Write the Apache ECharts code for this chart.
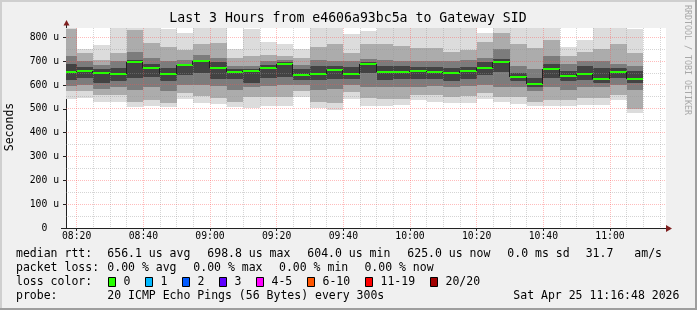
<!DOCTYPE html>
<html><head><meta charset="utf-8">
<script src="https://cdn.jsdelivr.net/npm/echarts@6/dist/echarts.min.js"></script>
<style>html,body{margin:0;padding:0;background:#f0f0f0}#c{width:697px;height:310px}</style>
</head><body><div id="c"></div>
<script>
// ---------- data ----------
const viewStart = '08:16:48';
const viewEnd = '11:16:48';
const stepSeconds = 300;
const barEndTimes = ['08:20','08:25','08:30','08:35','08:40','08:45','08:50','08:55','09:00','09:05','09:10','09:15',
  '09:20','09:25','09:30','09:35','09:40','09:45','09:50','09:55','10:00','10:05','10:10','10:15',
  '10:20','10:25','10:30','10:35','10:40','10:45','10:50','10:55','11:00','11:05','11:10'];
const medianUs = [654,658,650,648,697,671,645,683,698.8,673,654,657,671,687,640,645,662,648,687,654,654,658,654,650,658,671,696,632,604,666,636,644,627,654,625];
// smoke bands (µs): outermost (1) to innermost (4)
const lo1 = [543,545,529,529,508,510,506,540,525,520,508,505,513,510,550,502,493,543,510,510,515,536,530,525,526,540,530,520,510,510,510,515,517,535,484];
const hi1 = [839,752,766,839,840,839,836,818,840,840,750,835,779,773,752,840,840,815,825,840,840,840,840,840,840,820,840,840,840,840,760,788,840,840,835];
const lo2 = [573,575,560,560,530,535,525,565,555,545,530,550,550,550,575,530,525,570,545,540,540,560,560,550,555,565,550,550,530,535,535,545,545,560,500];
const hi2 = [835,735,706,735,830,775,760,745,770,775,715,720,725,720,715,760,770,733,770,770,765,755,755,740,745,780,820,770,755,790,720,740,750,770,735];
const lo3 = [594,600,585,590,580,590,575,600,600,595,580,590,595,600,600,580,585,600,590,590,590,590,595,590,595,600,590,590,575,590,580,590,590,600,580];
const hi3 = [720,700,683,700,740,715,700,705,725,715,680,680,700,705,685,705,700,700,710,705,700,700,700,700,705,715,750,680,665,720,690,700,700,690,680];
const lo4 = [622,630,610,615,630,635,615,640,650,625,625,610,630,635,620,620,625,625,650,620,625,625,625,615,625,640,655,615,590,630,615,620,610,630,610];
const hi4 = [688,675,668,670,705,690,670,690,705,695,668,665,685,695,665,680,680,675,695,680,680,675,675,670,675,695,710,650,630,690,660,680,670,670,660];
const xTickLabels = ['08:20','08:40','09:00','09:20','09:40','10:00','10:20','10:40','11:00'];
const xGridTimes = ['08:20','08:25','08:30','08:35','08:40','08:45','08:50','08:55','09:00','09:05','09:10','09:15',
  '09:20','09:25','09:30','09:35','09:40','09:45','09:50','09:55','10:00','10:05','10:10','10:15',
  '10:20','10:25','10:30','10:35','10:40','10:45','10:50','10:55','11:00','11:05','11:10','11:15'];
const yTickValues = [0,100,200,300,400,500,600,700,800];
const yMinorValues = [50,150,250,350,450,550,650,750];
const yMax = 839;

// ---------- helpers ----------
function toMin(s){const p=s.split(':').map(Number);return p[0]*60+p[1]+(p[2]||0)/60;}
const stepMin = stepSeconds/60;
const barEnd = barEndTimes.map(toMin);
const xMin = toMin(viewStart), xMax = toMin(viewEnd);
const xMajor = xTickLabels.map(toMin);
const xMinor = xGridTimes.filter(t=>!xTickLabels.includes(t)).map(toMin);
const yMajor = yTickValues.filter(v=>v>0);
const FONT = "'DejaVu Sans Mono', monospace";
const G = {left:66, top:28, width:600, height:200};

function fmtTime(m){const h=Math.floor(m/60), mm=Math.round(m-h*60);return String(h).padStart(2,'0')+':'+String(mm).padStart(2,'0');}

const layers = [[lo1,hi1,'#dcdcdc'],[lo2,hi2,'#acacac'],[lo3,hi3,'#7c7c7c'],[lo4,hi4,'#434343']];

function renderSmoke(params, api){
  const i = params.dataIndex, cs = params.coordSys;
  const end = barEnd[i], start = end - stepMin;
  const children = [];
  layers.forEach(([lo,hi,col])=>{
    const a = api.coord([start, hi[i]]), b = api.coord([end, lo[i]]);
    const x0 = Math.round(a[0]), x1 = Math.round(b[0]);
    const y0 = Math.round(a[1]), y1 = Math.round(b[1]);
    const r = echarts.graphic.clipRectByRect({x:x0,y:y0,width:x1-x0,height:y1-y0},
      {x:cs.x,y:cs.y,width:cs.width,height:cs.height});
    if (r) children.push({type:'rect', shape:r, style:{fill:col}});
  });
  return {type:'group', children};
}

function renderGrid(params, api){
  const cs = params.coordSys;
  const v = api.value(0), kind = api.value(1);
  const minorCol = 'rgba(150,150,150,0.4)', majorCol = 'rgba(255,80,80,0.38)';
  if (kind < 2){
    const x = Math.round(api.coord([v,0])[0]-0.5)+0.5;
    return {type:'line', shape:{x1:x,y1:cs.y,x2:x,y2:cs.y+cs.height},
      style:{stroke: kind===0?minorCol:majorCol, lineWidth:1, lineDash:[1,1]}};
  } else {
    const y = Math.round(api.coord([xMin,v])[1]-0.5)+0.5;
    return {type:'line', shape:{x1:cs.x,y1:y,x2:cs.x+cs.width,y2:y},
      style:{stroke: kind===2?minorCol:majorCol, lineWidth:1, lineDash:[1,1]}};
  }
}

function renderMedian(params, api){
  const i = params.dataIndex, cs = params.coordSys;
  const end = barEnd[i], start = end - stepMin;
  const a = api.coord([start, medianUs[i]]), b = api.coord([end, medianUs[i]]);
  const x0 = Math.max(Math.round(a[0]), cs.x), x1 = Math.round(b[0]);
  const y = Math.round(a[1]);
  const children = [];
  if (i > 0){
    const yp = Math.round(api.coord([start, medianUs[i-1]])[1]);
    children.push({type:'line', shape:{x1:x0-0.5,y1:yp,x2:x0-0.5,y2:y}, style:{stroke:'#202020',lineWidth:1}});
  }
  children.push({type:'rect', shape:{x:x0,y:y-1,width:x1-x0,height:2}, style:{fill:'#26ff00'}});
  return {type:'group', children};
}

const gridData = [].concat(
  xMinor.map(v=>[v,0]), xMajor.map(v=>[v,1]),
  yMinorValues.map(v=>[v,2]), yMajor.map(v=>[v,3]));

// legend / text graphics
const txt = (x,y,s,extra)=>Object.assign({type:'text', x, y, style:{text:s, font:'11.5px '+FONT, fill:'#000', textVerticalAlign:'middle'}}, extra||{});
const lossColors = [['0','#26ff00'],['1','#00b8ff'],['2','#0059ff'],['3','#5e00ff'],['4-5','#ff00ff'],['6-10','#ff5500'],['11-19','#ff0000'],['20/20','#a10000']];
const lossBoxX = [108,145,182,219,256,307,365,430];
const graphics = [
  {type:'rect', shape:{x:0,y:0,width:697,height:2}, style:{fill:'#cfcfcf'}},
  {type:'rect', shape:{x:0,y:0,width:2,height:310}, style:{fill:'#cfcfcf'}},
  {type:'rect', shape:{x:0,y:308,width:697,height:2}, style:{fill:'#9e9e9e'}},
  {type:'rect', shape:{x:695,y:0,width:2,height:310}, style:{fill:'#9e9e9e'}},
  {type:'text', x:348, y:19, style:{text:'Last 3 Hours from e4606a93bc5a to Gateway SID', font:'13.2px '+FONT, fill:'#000', textAlign:'center', textVerticalAlign:'middle'}},
  {type:'text', x:10, y:127, rotation:Math.PI/2, style:{text:'Seconds', font:'11.5px '+FONT, fill:'#000', textAlign:'center', textVerticalAlign:'middle'}},
  {type:'text', x:687, y:60, rotation:-Math.PI/2, style:{text:'RRDTOOL / TOBI OETIKER', font:'8.3px '+FONT, fill:'#a8a8a8', textAlign:'center', textVerticalAlign:'middle'}},
  // axis extensions and arrows
  {type:'line', shape:{x1:66.5,y1:G.top,x2:66.5,y2:24}, style:{stroke:'#222',lineWidth:1}, z:20},
  {type:'polygon', shape:{points:[[63.5,25.5],[69.5,25.5],[66.5,20]]}, style:{fill:'#7f1f1f'}, z:20},
  {type:'line', shape:{x1:61,y1:228.5,x2:G.left,y2:228.5}, style:{stroke:'#222',lineWidth:1}, z:20},
  {type:'polygon', shape:{points:[[666,225],[666,232],[672,228.5]]}, style:{fill:'#7f1f1f'}, z:20},
  txt(16,254.3,'median rtt:'), txt(107.3,254.3,'656.1 us avg'), txt(207.3,254.3,'698.8 us max'),
  txt(307.3,254.3,'604.0 us min'), txt(407.3,254.3,'625.0 us now'), txt(507.3,254.3,'0.0 ms sd'),
  txt(585.7,254.3,'31.7'), txt(634.3,254.3,'am/s'),
  txt(16,268.5,'packet loss:'), txt(107.3,268.5,'0.00 % avg'), txt(193.3,268.5,'0.00 % max'),
  txt(279,268.5,'0.00 % min'), txt(364.4,268.5,'0.00 % now'),
  txt(16,282,'loss color:'),
  txt(16,296.5,'probe:'), txt(107.3,296.5,'20 ICMP Echo Pings (56 Bytes) every 300s'),
  txt(513.3,296.5,'Sat Apr 25 11:16:48 2026')
];
lossColors.forEach(([lab,col],k)=>{
  graphics.push({type:'rect', shape:{x:lossBoxX[k]+0.5,y:277.5,width:7,height:9}, style:{fill:col,stroke:'#000',lineWidth:1}});
  graphics.push(txt(lossBoxX[k]+15.5,282,lab));
});

const chart = echarts.init(document.getElementById('c'), null, {renderer:'canvas', width:697, height:310});
chart.setOption({
  animation:false,
  backgroundColor:'#f0f0f0',
  grid:{left:G.left, top:G.top, width:G.width, height:G.height, show:true, backgroundColor:'#ffffff', borderWidth:0},
  xAxis:{type:'value', min:xMin, max:xMax,
    axisLine:{lineStyle:{color:'#222',width:1}},
    axisTick:{customValues:xMajor, length:3, lineStyle:{color:'#222'}},
    axisLabel:{customValues:xMajor, formatter:fmtTime, fontFamily:FONT, fontSize:9.75, color:'#000', margin:3},
    splitLine:{show:false}},
  yAxis:{type:'value', min:0, max:yMax, interval:100,
    axisLine:{show:true, lineStyle:{color:'#222',width:1}},
    axisTick:{show:true, length:3, lineStyle:{color:'#222'}},
    axisLabel:{formatter:v=> v===0 ? '0\u00a0\u00a0' : v+' u', showMaxLabel:false, fontFamily:FONT, fontSize:9.75, color:'#000', margin:7},
    splitLine:{show:false}},
  series:[
    {type:'custom', renderItem:renderSmoke, data:barEnd.map((t,i)=>[t,medianUs[i]]), z:1, silent:true},
    {type:'custom', renderItem:renderGrid, data:gridData, z:2, silent:true},
    {type:'custom', renderItem:renderMedian, data:barEnd.map((t,i)=>[t,medianUs[i]]), z:3, silent:true}
  ],
  graphic:graphics
});
</script></body></html>
